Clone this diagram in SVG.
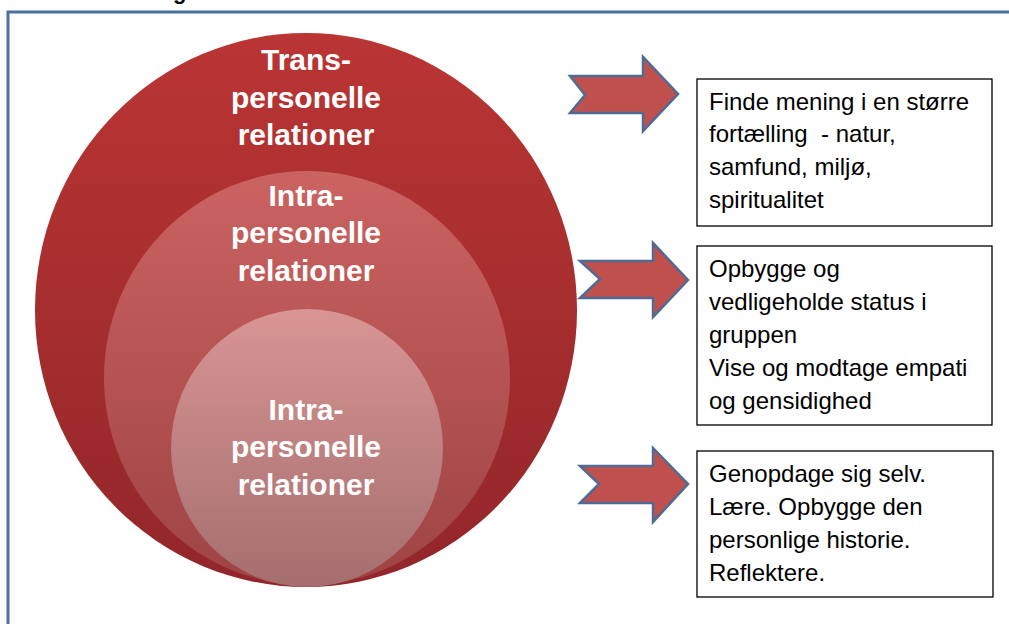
<svg xmlns="http://www.w3.org/2000/svg" width="1009" height="624" viewBox="0 0 1009 624">
<style>
.ct{font-family:"Liberation Sans",Arial,sans-serif;font-weight:bold;font-size:30px;fill:#fff;text-anchor:middle}
.bt{font-family:"Liberation Sans",Arial,sans-serif;font-size:24px;fill:#000}
.box{fill:#fff;stroke:#000;stroke-width:1.3}
.arr{fill:#C0504D;stroke:#4F6B94;stroke-width:2.5;stroke-linejoin:miter}
</style>
<defs>
<linearGradient id="g1" x1="0" y1="0" x2="0" y2="1"><stop offset="0" stop-color="#BA3533"/><stop offset="1" stop-color="#92262A"/></linearGradient>
<linearGradient id="g2" x1="0" y1="0" x2="0" y2="1"><stop offset="0" stop-color="#CB6361"/><stop offset="1" stop-color="#9E4344"/></linearGradient>
<linearGradient id="g3" x1="0" y1="0" x2="0" y2="1"><stop offset="0" stop-color="#D89594"/><stop offset="1" stop-color="#A56E6E"/></linearGradient>
</defs>
<rect width="1009" height="624" fill="#fff"/>
<text x="173" y="-1" style="font-family:'Liberation Sans',Arial,sans-serif;font-weight:bold;font-size:22px">g</text>
<rect x="8" y="12" width="1020" height="640" fill="none" stroke="#4A6FA0" stroke-width="3"/>
<g id="outer">
<ellipse cx="306" cy="310" rx="271" ry="277" fill="url(#g1)"/>
<text class="ct" x="306" y="70">Trans-</text>
<text class="ct" x="306" y="108">personelle</text>
<text class="ct" x="306" y="145">relationer</text>
</g>
<g id="middle">
<ellipse cx="307" cy="378" rx="203" ry="207" fill="url(#g2)"/>
<text class="ct" x="306" y="206">Intra-</text>
<text class="ct" x="306" y="243">personelle</text>
<text class="ct" x="306" y="281">relationer</text>
</g>
<g id="inner">
<ellipse cx="307" cy="448" rx="136" ry="139" fill="url(#g3)"/>
<text class="ct" x="306" y="420">Intra-</text>
<text class="ct" x="306" y="457">personelle</text>
<text class="ct" x="306" y="495">relationer</text>
</g>
<g id="connectors">
<path class="arr" d="M570,76 L643,76 L643,57 L678,94 L643,131 L643,113 L570,113 L585,95 Z"/>
<path class="arr" d="M580,261 L653,261 L653,243 L688,280 L653,317 L653,298 L580,298 L600,279 Z"/>
<path class="arr" d="M580,466 L653,466 L653,448 L688,484 L653,522 L653,503 L580,503 L599,484 Z"/>
</g>
<g id="box1">
<rect class="box" x="697" y="79" width="295" height="147"/>
<text class="bt" x="709" y="110">Finde mening i en større</text>
<text class="bt" x="709" y="142" xml:space="preserve">fortælling  - natur,</text>
<text class="bt" x="709" y="175">samfund, miljø,</text>
<text class="bt" x="709" y="208">spiritualitet</text>
</g>
<g id="box2">
<rect class="box" x="697" y="246" width="295" height="179"/>
<text class="bt" x="709" y="277">Opbygge og</text>
<text class="bt" x="709" y="310">vedligeholde status i</text>
<text class="bt" x="709" y="343">gruppen</text>
<text class="bt" x="709" y="376">Vise og modtage empati</text>
<text class="bt" x="709" y="409">og gensidighed</text>
</g>
<g id="box3">
<rect class="box" x="697" y="451" width="296" height="146"/>
<text class="bt" x="709" y="482">Genopdage sig selv.</text>
<text class="bt" x="709" y="515">Lære. Opbygge den</text>
<text class="bt" x="709" y="548">personlige historie.</text>
<text class="bt" x="709" y="581">Reflektere.</text>
</g>
</svg>
